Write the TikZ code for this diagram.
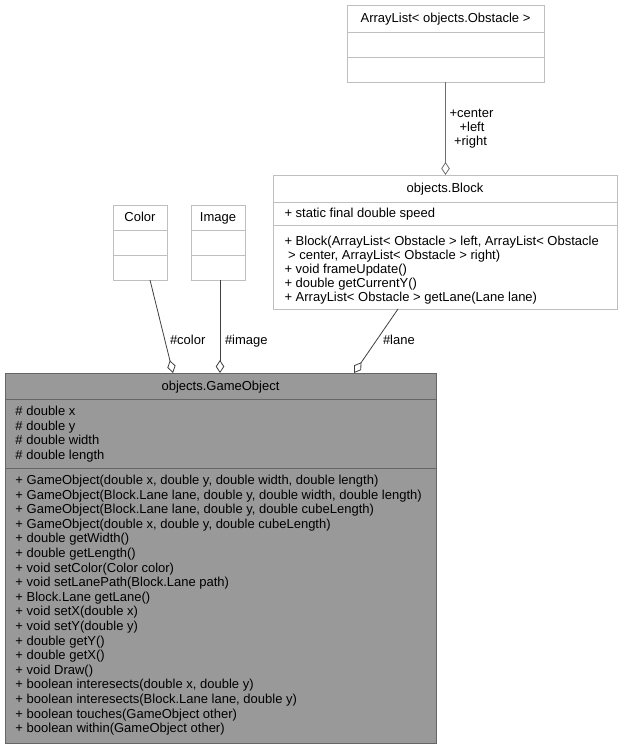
\documentclass[tikz,border=0pt]{standalone}
\usepackage{fontspec}
\setmainfont{Liberation Sans}
\usetikzlibrary{arrows.meta}
\definecolor{lightline}{HTML}{BFBFBF}
\definecolor{darkline}{HTML}{666666}
\definecolor{darkfill}{HTML}{999999}
\definecolor{edgecol}{HTML}{404040}
\definecolor{edgelight}{HTML}{6E6E6E}

\begin{document}
\begin{tikzpicture}[x=1pt,y=-1pt,
  every node/.style={font=\fontsize{13}{14.5}\selectfont, inner sep=0pt, outer sep=0pt},
  classbox/.style={rectangle, draw=lightline, fill=white, line width=0.8pt, anchor=north west},
  mainbox/.style={rectangle, draw=darkline, fill=darkfill, line width=0.8pt, anchor=north west},
  lightsep/.style={draw=lightline, line width=0.8pt},
  darksep/.style={draw=darkline, line width=0.8pt},
  row/.style={anchor=base west},
  ttl/.style={anchor=base},
  rolelbl/.style={anchor=base west},
  assoc/.style={draw=edgecol, line width=0.8pt, -{Diamond[open, length=13pt, width=8.5pt, line width=0.8pt]}},
]
\useasboundingbox (0,0) rectangle (623,749);

% ---- ArrayList< objects.Obstacle > ----
\node[classbox, minimum width=197pt, minimum height=77pt] (arr) at (347,5) {};
\draw[lightsep] ([yshift=-27pt]arr.north west) -- ([yshift=-27pt]arr.north east);
\draw[lightsep] ([yshift=-52pt]arr.north west) -- ([yshift=-52pt]arr.north east);
\node[ttl] (arr-t) at (445.5,22.5) {ArrayList< objects.Obstacle >};

% ---- objects.Block ----
\node[classbox, minimum width=344pt, minimum height=134pt] (blk) at (273,175) {};
\draw[lightsep] ([yshift=-27pt]blk.north west) -- ([yshift=-27pt]blk.north east);
\draw[lightsep] ([yshift=-50pt]blk.north west) -- ([yshift=-50pt]blk.north east);
\node[ttl] (blk-t) at (445,192) {objects.Block};
\node[row] (blk-a0) at (284.5,217) {+ static final double speed};
\foreach \t [count=\i from 0] in {
  {+ Block(ArrayList< Obstacle > left, ArrayList< Obstacle},
  {\ > center, ArrayList< Obstacle > right)},
  {+ void frameUpdate()},
  {+ double getCurrentY()},
  {+ ArrayList< Obstacle > getLane(Lane lane)}}
  \node[row] (blk-m\i) at (284.5,{245.5+14.1*\i}) {\t};

% ---- Color ----
\node[classbox, minimum width=54pt, minimum height=75pt] (clr) at (113,205) {};
\draw[lightsep] ([yshift=-25pt]clr.north west) -- ([yshift=-25pt]clr.north east);
\draw[lightsep] ([yshift=-50pt]clr.north west) -- ([yshift=-50pt]clr.north east);
\node[ttl] (clr-t) at (140,221.5) {Color};

% ---- Image ----
\node[classbox, minimum width=54pt, minimum height=75pt] (img) at (191,205) {};
\draw[lightsep] ([yshift=-25pt]img.north west) -- ([yshift=-25pt]img.north east);
\draw[lightsep] ([yshift=-50pt]img.north west) -- ([yshift=-50pt]img.north east);
\node[ttl] (img-t) at (218,221.5) {Image};

% ---- objects.GameObject ----
\node[mainbox, minimum width=431pt, minimum height=370pt] (go) at (5,373) {};
\draw[darksep] ([yshift=-26pt]go.north west) -- ([yshift=-26pt]go.north east);
\draw[darksep] ([yshift=-95pt]go.north west) -- ([yshift=-95pt]go.north east);
\node[ttl] (go-t) at (220.5,390) {objects.GameObject};
\foreach \t [count=\i from 0] in {
  {\# double x},
  {\# double y},
  {\# double width},
  {\# double length}}
  \node[row] (go-a\i) at (15.5,{415.5+14.5*\i}) {\t};
\foreach \t [count=\i from 0] in {
  {+ GameObject(double x, double y, double width, double length)},
  {+ GameObject(Block.Lane lane, double y, double width, double length)},
  {+ GameObject(Block.Lane lane, double y, double cubeLength)},
  {+ GameObject(double x, double y, double cubeLength)},
  {+ double getWidth()},
  {+ double getLength()},
  {+ void setColor(Color color)},
  {+ void setLanePath(Block.Lane path)},
  {+ Block.Lane getLane()},
  {+ void setX(double x)},
  {+ void setY(double y)},
  {+ double getY()},
  {+ double getX()},
  {+ void Draw()},
  {+ boolean interesects(double x, double y)},
  {+ boolean interesects(Block.Lane lane, double y)},
  {+ boolean touches(GameObject other)},
  {+ boolean within(GameObject other)}}
  \node[row] (go-m\i) at (15.5,{484.5+14.6*\i}) {\t};

% ---- associations ----
\draw[assoc, draw=edgelight, line width=1pt] (arr.south) -- (arr.south |- blk.north);
\node[anchor=base] (lbl-center) at (471.5,117.5) {+center};
\node[anchor=base] (lbl-left) at (472,131.5) {+left};
\node[anchor=base] (lbl-right) at (470.5,146) {+right};

\draw[assoc] ([xshift=10pt]clr.south) -- ([xshift=168pt]go.north west);
\node[rolelbl] (lbl-color) at (170,344.5) {\#color};

\draw[assoc] ([xshift=2pt]img.south) -- ([xshift=215pt]go.north west);
\node[rolelbl] (lbl-image) at (225,344.5) {\#image};

\draw[assoc] ([xshift=125pt]blk.south west) -- ([xshift=349pt]go.north west);
\node[rolelbl] (lbl-lane) at (383,344.5) {\#lane};
\end{tikzpicture}
\end{document}
